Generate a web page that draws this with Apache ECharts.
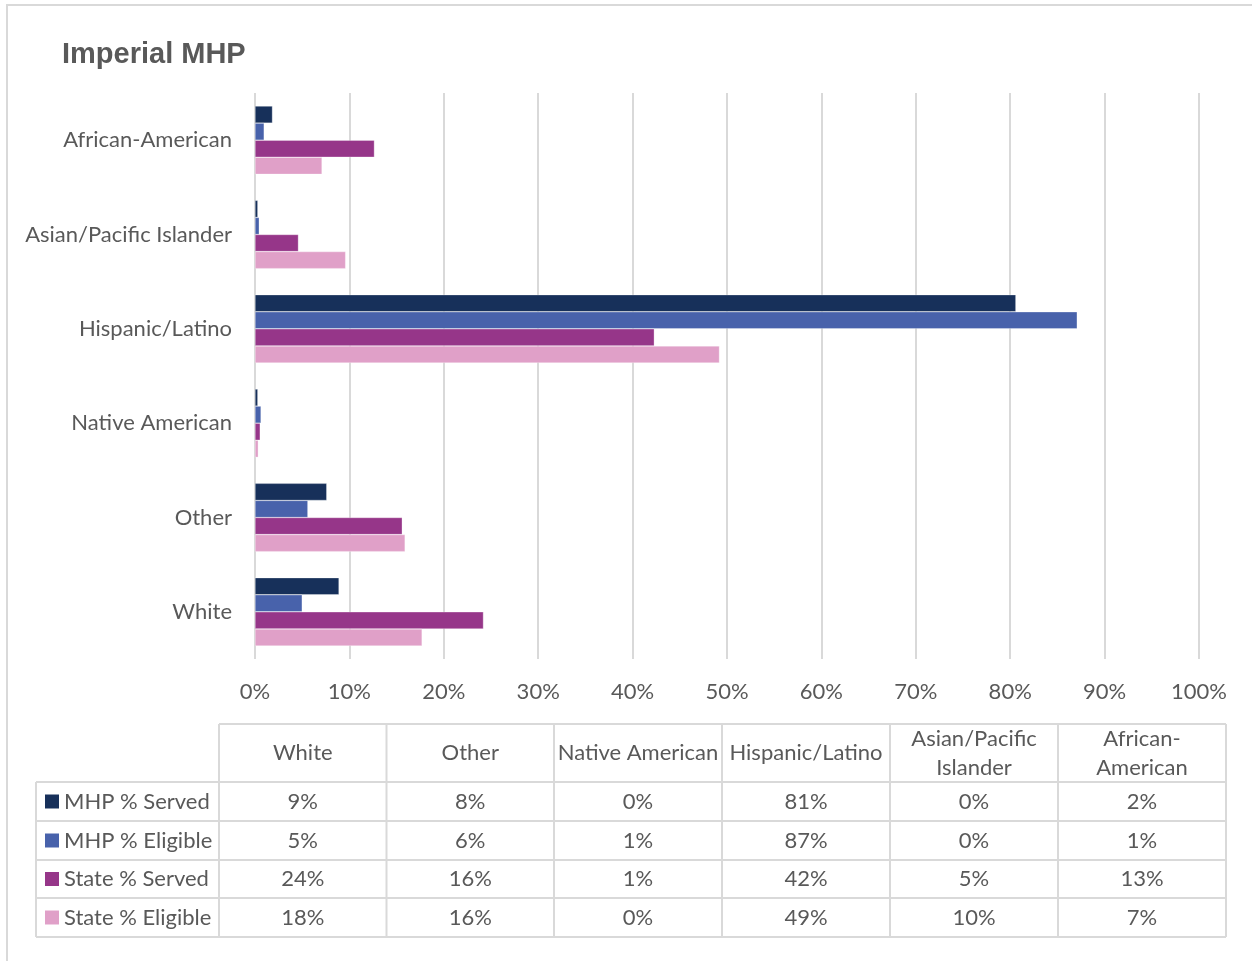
<!DOCTYPE html>
<html>
<head>
<meta charset="utf-8">
<script src="https://cdn.jsdelivr.net/npm/echarts@6/dist/echarts.min.js"></script>
<style>
html,body{margin:0;padding:0;background:#fff;}
#chart{width:1252px;height:961px;}
</style>
</head>
<body>
<div id="chart"></div>
<script>
// Categories in Excel order (first = bottom of chart, first column of table)
const categories = ['White', 'Other', 'Native American', 'Hispanic/Latino', 'Asian/Pacific Islander', 'African-American'];
const tableHeaders = ['White', 'Other', 'Native American', 'Hispanic/Latino', 'Asian/Pacific\nIslander', 'African-\nAmerican'];
const seriesNames = ['MHP % Served', 'MHP % Eligible', 'State % Served', 'State % Eligible'];
const seriesColors = ['#17305a', '#4862ab', '#963689', '#e0a0c8'];
// values in percent
const mhpServed    = [8.9, 7.6, 0.3, 80.6, 0.3, 1.85];
const mhpEligible  = [5.0, 5.6, 0.64, 87.1, 0.45, 0.97];
const stateServed  = [24.2, 15.6, 0.55, 42.3, 4.6, 12.65];
const stateEligible= [17.7, 15.9, 0.35, 49.2, 9.6, 7.1];
const seriesValues = [mhpServed, mhpEligible, stateServed, stateEligible];
const xTicks = [0,10,20,30,40,50,60,70,80,90,100];

const txtColor = '#595959';
const lineColor = '#d9d9d9';
const font = 'Lato';
const fs = 22;

const chart = echarts.init(document.getElementById('chart'), null, {renderer: 'canvas'});

// Table geometry
const colX = [219, 386.5, 554, 722, 890, 1058, 1226];
const rowY = [724, 782, 821, 860, 898, 937];
const legendLeft = 36;
const graphics = [];
// outer frame
graphics.push({type:'rect', shape:{x:7,y:5,width:1300,height:1000}, style:{fill:'none', stroke:lineColor, lineWidth:2}, silent:true});
// horizontal lines
graphics.push({type:'line', shape:{x1:colX[0], y1:rowY[0], x2:colX[6], y2:rowY[0]}, style:{stroke:lineColor, lineWidth:2}});
for (let i = 1; i < rowY.length; i++) {
  graphics.push({type:'line', shape:{x1:legendLeft, y1:rowY[i], x2:colX[6], y2:rowY[i]}, style:{stroke:lineColor, lineWidth:2}});
}
// vertical lines
graphics.push({type:'line', shape:{x1:legendLeft, y1:rowY[1], x2:legendLeft, y2:rowY[5]}, style:{stroke:lineColor, lineWidth:2}});
colX.forEach(x => graphics.push({type:'line', shape:{x1:x, y1:rowY[0], x2:x, y2:rowY[5]}, style:{stroke:lineColor, lineWidth:2}}));
// header texts
tableHeaders.forEach((h, i) => {
  graphics.push({type:'text', style:{text:h, x:(colX[i]+colX[i+1])/2, y:(rowY[0]+rowY[1])/2, align:'center', verticalAlign:'middle', fill:txtColor, fontSize:fs, fontFamily:font, lineHeight:29}});
});
// rows
seriesNames.forEach((name, r) => {
  const cy = (rowY[r+1]+rowY[r+2])/2;
  graphics.push({type:'rect', shape:{x:45, y:cy-7, width:14, height:14}, style:{fill:seriesColors[r]}});
  graphics.push({type:'text', style:{text:name, x:64, y:cy, align:'left', verticalAlign:'middle', fill:txtColor, fontSize:fs, fontFamily:font}});
  seriesValues[r].forEach((v, c) => {
    graphics.push({type:'text', style:{text:Math.round(v)+'%', x:(colX[c]+colX[c+1])/2, y:cy, align:'center', verticalAlign:'middle', fill:txtColor, fontSize:fs, fontFamily:font}});
  });
});

const option = {
  animation: false,
  backgroundColor: '#fff',
  title: {
    text: 'Imperial MHP', left: 57, top: 35,
    textStyle: {fontFamily: 'Liberation Sans', fontWeight: 'bold', fontSize: 29, color: txtColor}
  },
  grid: {left: 255, right: 53, top: 93, bottom: 302, containLabel: false},
  xAxis: {
    type: 'value', min: 0, max: 100, interval: 10,
    axisLine: {show: false}, axisTick: {show: false},
    splitLine: {show: true, lineStyle: {color: lineColor, width: 2}},
    axisLabel: {formatter: v => v + '%', color: txtColor, fontSize: fs, fontFamily: font, margin: 22}
  },
  yAxis: {
    type: 'category', data: categories,
    axisLine: {show: false}, axisTick: {show: false},
    axisLabel: {color: txtColor, fontSize: fs, fontFamily: font, margin: 23}
  },
  series: seriesNames.map((n, i) => ({
    name: n, type: 'bar', data: seriesValues[i],
    itemStyle: {color: seriesColors[i], borderColor: 'rgba(255,255,255,0.6)', borderWidth: 0.5},
    barGap: '0%', barCategoryGap: '27.6%'
  })),
  graphic: graphics
};
chart.setOption(option);
</script>
</body>
</html>
